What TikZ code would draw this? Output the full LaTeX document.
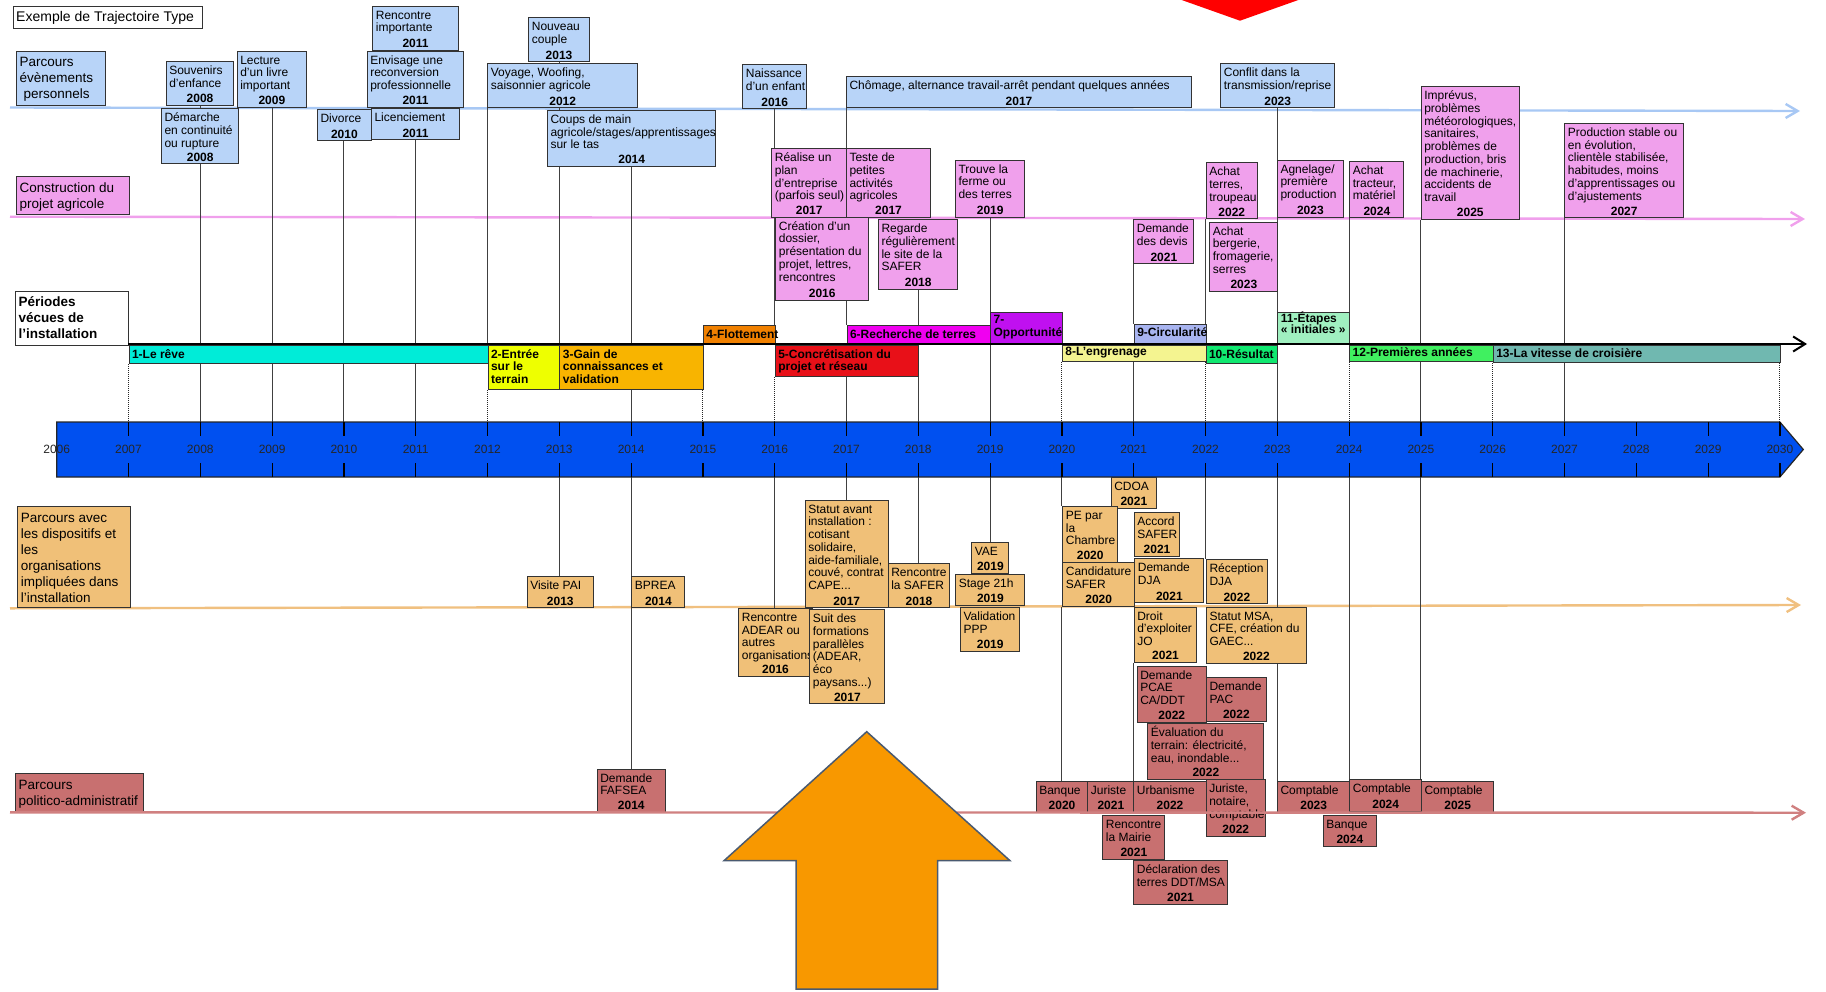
\documentclass[tikz,border=0pt]{standalone}
\usepackage{fontspec}
\setmainfont{Liberation Sans}
\usetikzlibrary{arrows.meta,backgrounds}

\definecolor{persoc}{HTML}{B8D4F8}
\definecolor{projetc}{HTML}{F0A0EC}
\definecolor{dispoc}{HTML}{F0C078}
\definecolor{adminc}{HTML}{C87070}
\definecolor{pisteb}{HTML}{A8C8F4}
\definecolor{pisterose}{HTML}{F0A0EC}
\definecolor{pisteor}{HTML}{F0C080}
\definecolor{pisterouge}{HTML}{D08080}
\definecolor{bandec}{HTML}{0050F0}
\definecolor{c1}{HTML}{00ECD8}
\definecolor{c2}{HTML}{EEFF00}
\definecolor{c3}{HTML}{F8B400}
\definecolor{c4}{HTML}{F08000}
\definecolor{c5}{HTML}{E81018}
\definecolor{c6}{HTML}{F000F0}
\definecolor{c7}{HTML}{C010F0}
\definecolor{c8}{HTML}{F4F490}
\definecolor{c9}{HTML}{A8B4F0}
\definecolor{c10}{HTML}{10E870}
\definecolor{c11}{HTML}{A0F0C0}
\definecolor{c12}{HTML}{40F060}
\definecolor{c13}{HTML}{70B8B0}
\definecolor{flecheo}{HTML}{F89800}
\definecolor{flecheb}{HTML}{4A5A70}

\newcommand\petit{\fontsize{12}{12.7}\selectfont}
\newcommand\grand{\fontsize{13.5}{16}\selectfont}
% style, name, x, y, width, height, text, year
\newcommand\boite[8]{\node[#1, anchor=north west, minimum width=#5pt, minimum height=#6pt] (#2) at (#3,#4)
  {\makebox[\dimexpr#5pt-6pt\relax][l]{\parbox[t][#6pt][t]{\dimexpr#5pt+40pt\relax}{\hyphenpenalty=10000 \exhyphenpenalty=10000 \raggedright\rule{0pt}{13pt}#7\par\vfill\noindent\makebox[\dimexpr#5pt-6pt\relax]{\textbf{#8}}\par\vspace*{2.5pt}}}};}
% [first baseline], style, name, x, y, width, height, text
\newcommand\bandeau[8][12.5pt]{\node[#2, anchor=north west, minimum width=#6pt, minimum height=#7pt] (#3) at (#4,#5)
  {\makebox[\dimexpr#6pt-6pt\relax][l]{\parbox[t][#7pt][t]{\dimexpr#6pt+40pt\relax}{\hyphenpenalty=10000 \exhyphenpenalty=10000 \raggedright\rule{0pt}{#1}#8}}};}

\tikzset{
  boiteb/.style={draw=black!80, line width=1.1pt, inner xsep=3pt, inner ysep=0pt, font=\petit},
  perso/.style={boiteb, fill=persoc},
  projet/.style={boiteb, fill=projetc},
  dispo/.style={boiteb, fill=dispoc},
  admin/.style={boiteb, fill=adminc},
  periode/.style={boiteb, font=\petit\bfseries},
  rubrique/.style={boiteb, font=\grand},
  lien/.style={draw=black!75, line width=1.1pt},
  pointille/.style={draw=black!85, line width=1pt, densely dotted},
  piste/.style={draw=#1, line width=2.4pt, -{Straight Barb[length=12pt,width=14pt]}},
  axe/.style={draw=black, line width=2pt, -{Straight Barb[length=12pt,width=15pt]}},
  bande/.style={fill=bandec, draw=black!85, line width=1.2pt},
  graduation/.style={draw=black, line width=1.2pt},
  annee/.style={font=\fontsize{12}{13}\selectfont, text=black!85, inner sep=0pt}
}

\begin{document}
\begin{tikzpicture}[x=1pt, y=-1pt]
  %%%%% START %%%%%
  \useasboundingbox (0,0) rectangle (1826,991);

  % bande des annees
  \coordinate (bandN) at (0,422);
  \coordinate (bandS) at (0,477);
  \draw[bande] (56.7,422) -- (1779.9,422) -- (1803.3,449.5) -- (1779.9,477) -- (56.7,477) -- cycle;
  \foreach \a in {2006,...,2030}
    \node[annee] (a\a) at ({56.7+(\a-2006)*71.8},449.5) {\a};
  \foreach \a in {2007,...,2030} {
    \draw[graduation] (a\a |- bandN) -- ++(0,14);
    \draw[graduation] (a\a |- bandS) -- ++(0,-14);
  }

  % rubriques
  \bandeau[15pt]{rubrique, fill=white, font=\fontsize{14}{16}\selectfont}{titre}{12.7}{5.7}{189.6}{22}{Exemple de Trajectoire Type}
  \bandeau[15pt]{rubrique, fill=persoc}{rperso}{16}{50.7}{89}{54.3}{Parcours\\évènements\\\hspace*{4pt}personnels}
  \bandeau[16pt]{rubrique, fill=projetc}{rprojet}{16}{175.7}{113}{38.3}{Construction du\\projet agricole}
  \bandeau[15pt]{rubrique, fill=white, font=\grand\bfseries}{rperiode}{15}{290.7}{112.7}{54.3}{Périodes\\vécues de\\l'installation}
  \bandeau[16pt]{rubrique, fill=dispoc}{rdispo}{17.3}{505.7}{112.7}{101.6}{Parcours avec\\les dispositifs et\\les\\organisations\\impliquées dans\\l'installation}
  \bandeau[16pt]{rubrique, fill=adminc}{radmin}{15}{773.3}{127.7}{38.4}{Parcours\\politico-administratif}

  % parcours personnel
  \boite{perso}{souv}{165.7}{61}{67.6}{44}{Souvenirs\\d'enfance}{2008}
  \boite{perso}{dem}{161}{108.3}{77.3}{55}{Démarche\\en continuité\\ou rupture}{2008}
  \boite{perso}{lect}{236.7}{50.7}{69.3}{56}{Lecture\\d'un livre\\important}{2009}
  \boite{perso}{div}{317}{109.3}{53.7}{31}{Divorce}{2010}
  \boite{perso}{renc}{372.3}{5.7}{85.4}{44.3}{Rencontre\\importante}{2011}
  \boite{perso}{envi}{366.7}{50.7}{96.6}{56}{Envisage une\\reconversion\\professionnelle}{2011}
  \boite{perso}{licen}{371}{108.3}{88}{31}{Licenciement}{2011}
  \boite{perso}{couple}{528.3}{17.3}{60.4}{44}{Nouveau\\couple}{2013}
  \boite{perso}{voyage}{487.3}{63.3}{149.7}{44}{Voyage, Woofing,\\saisonnier agricole}{2012}
  \boite{perso}{coups}{547}{110}{168.3}{55.7}{Coups de main\\agricole/stages/apprentissages\\sur le tas}{2014}
  \boite{perso}{naiss}{742.3}{64.3}{63.7}{44}{Naissance\\d'un enfant}{2016}
  \boite{perso}{chom}{846}{75.7}{345}{31.6}{Chômage, alternance travail-arrêt pendant quelques années}{2017}
  \boite{perso}{conflit}{1220.3}{63}{113.7}{44.3}{Conflit dans la\\transmission/reprise}{2023}

  % projet agricole
  \boite{projet}{plan}{771.3}{148.3}{74.7}{68.4}{Réalise un\\plan\\d'entreprise\\(parfois seul)}{2017}
  \boite{projet}{teste}{846}{148.3}{84}{68.4}{Teste de\\petites\\activités\\agricoles}{2017}
  \boite{projet}{dossier}{775.3}{216.7}{92.7}{83.3}{Création d'un\\dossier,\\présentation du\\projet, lettres,\\rencontres}{2016}
  \boite{projet}{regarde}{878}{219.3}{79.3}{69.4}{Regarde\\régulièrement\\le site de la\\SAFER}{2018}
  \boite{projet}{trouve}{955}{159.7}{69.3}{57}{Trouve la\\ferme ou\\des terres}{2019}
  \boite{projet}{devis}{1133.3}{219.3}{60}{44}{Demande\\des devis}{2021}
  \boite{projet}{terres}{1205.7}{162.3}{51}{56}{Achat\\terres,\\troupeau}{2022}
  \boite{projet}{bergerie}{1209.3}{221.7}{68}{69.3}{Achat\\bergerie,\\fromagerie,\\serres}{2023}
  \boite{projet}{agnel}{1277}{159.7}{65.7}{57}{Agnelage/\\première\\production}{2023}
  \boite{projet}{tracteur}{1349.3}{161}{54}{56.3}{Achat\\tracteur,\\matériel}{2024}
  \boite{projet}{imprevus}{1420.7}{86.3}{98}{132.7}{Imprévus,\\problèmes\\météorologiques,\\sanitaires,\\problèmes de\\production, bris\\de machinerie,\\accidents de\\travail}{2025}
  \boite{projet}{stable}{1564.3}{123}{118.7}{94.3}{Production stable ou\\en évolution,\\clientèle stabilisée,\\habitudes, moins\\d'apprentissages ou\\d'ajustements}{2027}

  % periodes
  \bandeau[13pt]{periode, fill=c1}{p1}{128.5}{345}{359}{18}{1-Le rêve}
  \bandeau{periode, fill=c2}{p2}{487.5}{345}{71.8}{44}{2-Entrée\\sur le\\terrain}
  \bandeau{periode, fill=c3}{p3}{559.3}{345}{143.6}{44}{3-Gain de\\connaissances et\\validation}
  \bandeau[13pt]{periode, fill=c4}{p4}{702.9}{325}{71.8}{18}{4-Flottement}
  \bandeau{periode, fill=c5}{p5}{774.7}{345}{143.6}{31}{5-Concrétisation du\\projet et réseau}
  \bandeau[13pt]{periode, fill=c6}{p6}{846.5}{325}{143.6}{18}{6-Recherche de terres}
  \bandeau[11.5pt]{periode, fill=c7}{p7}{990.1}{311.7}{71.8}{31.3}{7-\\Opportunité}
  \bandeau[10pt]{periode, fill=c8}{p8}{1061.9}{345}{143.6}{16}{8-L'engrenage}
  \bandeau[12pt]{periode, fill=c9}{p9}{1133.7}{324}{71.8}{19}{9-Circularité}
  \bandeau[13pt]{periode, fill=c10}{p10}{1205.5}{345}{71.8}{18}{10-Résultat}
  \bandeau[9pt]{periode, fill=c11, font=\fontsize{12}{10.5}\selectfont\bfseries}{p11}{1277.3}{311.7}{71.8}{31.3}{\lineskiplimit=-20pt 11-Étapes\\« initiales »}
  \bandeau[10.5pt]{periode, fill=c12}{p12}{1349.1}{345}{143.6}{16}{12-Premières années}
  \bandeau[11.5pt]{periode, fill=c13}{p13}{1492.7}{345}{287.2}{17}{13-La vitesse de croisière}
  \draw[axe] (128,344) -- (1807,344);

  % dispositifs et organisations
  \boite{dispo}{pai}{526.7}{575.7}{66}{31.6}{Visite PAI}{2013}
  \boite{dispo}{bprea}{631.3}{575.7}{53}{31.6}{BPREA}{2014}
  \boite{dispo}{statut}{804.7}{499.7}{83}{107.6}{Statut avant\\installation :\\cotisant\\solidaire,\\aide-familiale,\\couvé, contrat\\CAPE...}{2017}
  \boite{dispo}{rsafer}{887.7}{563.3}{61.6}{44}{Rencontre\\la SAFER}{2018}
  \boite{dispo}{adear}{738.3}{608}{73.4}{68}{Rencontre\\ADEAR ou\\autres\\organisations}{2016}
  \boite{dispo}{formations}{809.3}{609.3}{75}{94}{Suit des\\formations\\parallèles\\(ADEAR,\\éco\\paysans...)}{2017}
  \boite{dispo}{vae}{971.3}{542.3}{37}{30.4}{VAE}{2019}
  \boite{dispo}{stage}{955.3}{573.7}{69}{31.3}{Stage 21h}{2019}
  \boite{dispo}{ppp}{960}{607.3}{59.3}{43.4}{Validation\\PPP}{2019}
  \boite{dispo}{cdoa}{1110.7}{477.3}{45.3}{30.4}{CDOA}{2021}
  \boite{dispo}{pe}{1062.3}{506}{54.7}{55.7}{PE par\\la\\Chambre}{2020}
  \boite{dispo}{cand}{1062.3}{562.3}{71.7}{43.7}{Candidature\\SAFER}{2020}
  \boite{dispo}{accord}{1133.7}{512.3}{45.6}{43.7}{Accord\\SAFER}{2021}
  \boite{dispo}{dja}{1134.3}{558.3}{69}{44}{Demande\\DJA}{2021}
  \boite{dispo}{recdja}{1206}{559.3}{60.7}{44}{Réception\\DJA}{2022}
  \boite{dispo}{droit}{1133.7}{606.7}{62.6}{55}{Droit\\d'exploiter\\JO}{2021}
  \boite{dispo}{msa}{1206}{606.7}{99.7}{56}{Statut MSA,\\CFE, création du\\GAEC...}{2022}

  % politico-administratif
  \boite{admin}{fafsea}{596.7}{768.7}{68}{43}{Demande\\FAFSEA}{2014}
  \boite{admin}{pcae}{1136.7}{665.7}{69}{56}{Demande\\PCAE\\CA/DDT}{2022}
  \boite{admin}{pac}{1206}{677}{59.7}{44}{Demande\\PAC}{2022}
  \boite{admin}{evalu}{1147.3}{723.3}{116}{55.7}{Évaluation du\\terrain: électricité,\\eau, inondable...}{2022}
  \boite{admin}{banque20}{1035.7}{780.7}{51.6}{31.3}{Banque}{2020}
  \boite{admin}{juriste}{1087.3}{780.7}{46}{31.3}{Juriste}{2021}
  \boite{admin}{urba}{1133.3}{780.7}{72.4}{31.3}{Urbanisme}{2022}
  \boite{admin}{notaire}{1205.7}{779.3}{59}{56.4}{Juriste,\\notaire,\\comptable}{2022}
  \boite{admin}{compta23}{1277}{780.7}{72.3}{31.3}{Comptable}{2023}
  \boite{admin}{compta24}{1349.3}{779.3}{71.7}{31.4}{Comptable}{2024}
  \boite{admin}{compta25}{1421}{780.7}{72.3}{31.3}{Comptable}{2025}
  \boite{admin}{mairie}{1102.3}{815}{62}{44}{Rencontre\\la Mairie}{2021}
  \boite{admin}{decl}{1133.3}{860}{93.4}{43.7}{Déclaration des\\terres DDT/MSA}{2021}
  \boite{admin}{banque24}{1322.7}{815}{53.3}{31}{Banque}{2024}
  \draw[piste=pisterouge] (10,812.3) -- (1806,812.7);

  % fleches
  \draw[fill=flecheo, draw=flecheb, line width=1.5pt] (866.7,731.7) -- (1010,860.7) -- (937.7,860.7) -- (937.7,989) -- (796,989) -- (796,860.7) -- (724,860.7) -- cycle;
  \fill[red] (1181.7,0) -- (1298.3,0) -- (1240,20.7) -- cycle;

  \begin{pgfonlayer}{background}
    \draw[piste=pisteb] (10,107.5) -- (1800,111);
    \draw[piste=pisterose] (10,216.7) -- (1805,219);
    \draw[piste=pisteor] (10,608.3) -- (1801,605);

    % liens vers la bande
    \draw[lien] (souv.south -| a2008) -- (dem.north -| a2008);
    \draw[lien] (dem.south -| a2008) -- (a2008 |- bandN);
    \draw[lien] (lect.south -| a2009) -- (a2009 |- bandN);
    \draw[lien] (div.south -| a2010) -- (a2010 |- bandN);
    \draw[lien] (renc.south -| a2011) -- (envi.north -| a2011);
    \draw[lien] (envi.south -| a2011) -- (licen.north -| a2011);
    \draw[lien] (licen.south -| a2011) -- (a2011 |- bandN);
    \draw[lien] (voyage.south -| a2012) -- (p2.north -| a2012);
    \draw[lien] (couple.south -| a2013) -- (voyage.north -| a2013);
    \draw[lien] (voyage.south -| a2013) -- (coups.north -| a2013);
    \draw[lien] (coups.south -| a2013) -- (p3.north -| a2013);
    \draw[lien] (coups.south -| a2014) -- (a2014 |- bandN);
    \draw[lien] (naiss.south -| a2016) -- (plan.north -| a2016);
    \draw[lien] (plan.south -| a2016) -- (p5.north -| a2016);
    \draw[lien] (chom.south -| a2017) -- (plan.north -| a2017);
    \draw[lien] (dossier.south -| a2017) -- (p6.north -| a2017);
    \draw[lien] (p5.south -| a2017) -- (a2017 |- bandN);
    \draw[lien] (regarde.south -| a2018) -- (p6.north -| a2018);
    \draw[lien] (p5.south -| a2018) -- (a2018 |- bandN);
    \draw[lien] (trouve.south -| a2019) -- (p7.north -| a2019);
    \draw[lien] (p7.south -| a2019) -- (a2019 |- bandN);
    \draw[lien] (devis.south -| a2021) -- (p9.north -| a2021);
    \draw[lien] (p8.south -| a2021) -- (a2021 |- bandN);
    \draw[lien] (terres.south -| a2022) -- (p10.north -| a2022);
    \draw[lien] (conflit.south -| a2023) -- (agnel.north -| a2023);
    \draw[lien] (agnel.south -| a2023) -- (p11.north -| a2023);
    \draw[lien] (p10.south -| a2023) -- (a2023 |- bandN);
    \draw[lien] (tracteur.south -| a2024) -- (p12.north -| a2024);
    \draw[lien] (imprevus.south -| a2025) -- (a2025 |- bandN);
    \draw[lien] (stable.south -| a2027) -- (a2027 |- bandN);

    \draw[pointille] (p1.south -| a2007) -- (a2007 |- bandN);
    \draw[pointille] (p2.south -| a2012) -- (a2012 |- bandN);
    \draw[pointille] (p3.south -| a2015) -- (a2015 |- bandN);
    \draw[pointille] (p5.south -| a2016) -- (a2016 |- bandN);
    \draw[pointille] (p8.south -| a2020) -- (a2020 |- bandN);
    \draw[pointille] (p8.south -| a2022) -- (a2022 |- bandN);
    \draw[pointille] (p12.south -| a2024) -- (a2024 |- bandN);
    \draw[pointille] (p13.south -| a2026) -- (a2026 |- bandN);
    \draw[pointille] (p13.south -| a2030) -- (a2030 |- bandN);

    % liens sous la bande
    \draw[lien] (a2013 |- bandS) -- (pai.north -| a2013);
    \draw[lien] (a2014 |- bandS) -- (bprea.north -| a2014);
    \draw[lien] (bprea.south -| a2014) -- (fafsea.north -| a2014);
    \draw[lien] (a2016 |- bandS) -- (adear.north -| a2016);
    \draw[lien] (a2017 |- bandS) -- (statut.north -| a2017);
    \draw[lien] (a2018 |- bandS) -- (rsafer.north -| a2018);
    \draw[lien] (a2019 |- bandS) -- (vae.north -| a2019);
    \draw[lien] (a2020 |- bandS) -- (pe.north -| a2020);
    \draw[lien] (cand.south -| a2020) -- (banque20.north -| a2020);
    \draw[lien] (droit.south -| a2021) -- (urba.north -| a2021);
    \draw[lien] (a2022 |- bandS) -- (recdja.north -| a2022);
    \draw[lien] (a2023 |- bandS) -- (compta23.north -| a2023);
    \draw[lien] (a2024 |- bandS) -- (compta24.north -| a2024);
    \draw[lien] (a2025 |- bandS) -- (compta25.north -| a2025);
  \end{pgfonlayer}
  %%%%% END %%%%%
\end{tikzpicture}
\end{document}
